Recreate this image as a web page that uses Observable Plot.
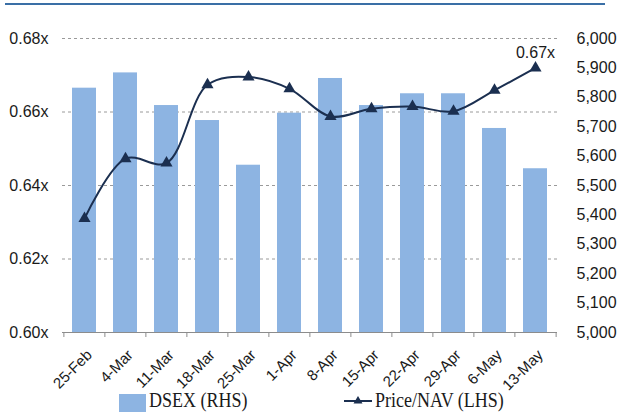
<!DOCTYPE html>
<html><head><meta charset="utf-8">
<script src="https://cdn.jsdelivr.net/npm/d3@7"></script>
<script src="https://cdn.jsdelivr.net/npm/@observablehq/plot@0.6"></script>
<style>
html,body{margin:0;padding:0;background:#fff;}
#wrap{position:relative;width:619px;height:412px;overflow:hidden;font-family:"Liberation Sans",Arial,sans-serif;}
#topline{position:absolute;left:5px;top:3px;width:600px;height:2px;background:#3A6FA6;}
#chart{position:absolute;left:0;top:0;}
.legtxt{position:absolute;font-family:"Liberation Serif","DejaVu Serif",serif;font-size:18px;line-height:18px;color:#1a1a1a;transform:scaleY(1.15);transform-origin:0 0;white-space:nowrap;}
</style>
</head><body>
<div id="wrap">
  <div id="chart"></div>
  <div id="topline"></div>
  <div id="legend"></div>
</div>
<script>
const weeks = ["25-Feb","4-Mar","11-Mar","18-Mar","25-Mar","1-Apr","8-Apr","15-Apr","22-Apr","29-Apr","6-May","13-May"];
const dsex = [5831,5883,5772,5721,5569,5746,5864,5772,5812,5812,5694,5557];
const priceNav = [0.631,0.6473,0.6461,0.6674,0.6695,0.6663,0.6588,0.6609,0.6615,0.6602,0.6659,0.672];
const lhsTicks = [0.60,0.62,0.64,0.66,0.68];
const rhsTicks = [5000,5100,5200,5300,5400,5500,5600,5700,5800,5900,6000];
const seriesNames = ["DSEX (RHS)","Price/NAV (LHS)"];

const lMin = 0.60, lMax = 0.68, rMin = 5000, rMax = 6000;
const toL = v => lMin + (v - rMin) / (rMax - rMin) * (lMax - lMin);
const toR = v => rMin + (v - lMin) / (lMax - lMin) * (rMax - rMin);

const data = weeks.map((w, i) => ({week: w, dsex: dsex[i], nav: priceNav[i]}));

const W = 619, H = 412, mL = 62, mR = 62, mT = 38, mB = 80;
const step = (W - mL - mR) / weeks.length;
const tickLen = 5 * (lMax - lMin) / (H - mT - mB);
const navy = "#1B2F50", barFill = "#8DB4E2";

const chart = Plot.plot({
  width: W, height: H,
  marginLeft: mL, marginRight: mR, marginTop: mT, marginBottom: mB,
  style: {fontFamily: "'Liberation Sans', Arial, sans-serif", color: "#1a1a1a", background: "transparent"},
  x: {type: "band", domain: weeks, paddingInner: 0.42, paddingOuter: 0.21, axis: null},
  y: {domain: [lMin, lMax], axis: null},
  marks: [
    Plot.ruleY(lhsTicks.filter(d => d > lMin), {stroke: "#9a9a9a", strokeDasharray: "3,3", strokeWidth: 1}),
    Plot.barY(data, {x: "week", y1: lMin, y2: d => toL(d.dsex), fill: barFill}),
    Plot.ruleY([lMin], {stroke: "#8c8c8c", strokeWidth: 1}),
    Plot.ruleX(weeks, {x: d => d, y1: lMin, y2: lMin - tickLen, dx: -step / 2, stroke: "#8c8c8c"}),
    Plot.ruleX([weeks[weeks.length - 1]], {x: d => d, y1: lMin, y2: lMin - tickLen, dx: step / 2, stroke: "#8c8c8c"}),
    Plot.axisY(lhsTicks, {anchor: "left", tickSize: 0, tickPadding: 14, fontSize: 16, fontFamily: "'Liberation Sans', Arial, sans-serif", label: null, tickFormat: d => d.toFixed(2) + "x"}),
    Plot.axisY(rhsTicks.map(toL), {anchor: "right", tickSize: 0, tickPadding: 19, fontSize: 16, fontFamily: "'Liberation Sans', Arial, sans-serif", label: null, tickFormat: d => d3.format(",")(Math.round(toR(d)))}),
    Plot.text(weeks, {x: d => d, y: lMin, text: d => d, rotate: -45, textAnchor: "end", dx: 5, dy: 20, fontSize: 15, fontFamily: "'Liberation Sans', Arial, sans-serif", fill: "#1a1a1a"}),
    Plot.line(data, {x: "week", y: "nav", stroke: navy, strokeWidth: 2, curve: "catmull-rom"}),
    Plot.dot(data, {x: "week", y: "nav", symbol: "triangle", r: 4.5, fill: navy, stroke: "none"}),
    Plot.text([data[data.length - 1]], {x: "week", y: "nav", text: d => d.nav.toFixed(2) + "x", dy: -15, fontSize: 16, fontFamily: "'Liberation Sans', Arial, sans-serif", fill: "#1a1a1a"})
  ]
});
document.getElementById("chart").appendChild(chart);

// Legend (below the plot area)
const leg = document.getElementById("legend");
leg.innerHTML = `
  <div style="position:absolute;left:119px;top:394px;width:27px;height:18px;background:${barFill};"></div>
  <div class="legtxt" style="left:149px;top:390px;">${seriesNames[0]}</div>
  <svg style="position:absolute;left:340px;top:392px;" width="36" height="18">
    <line x1="4" y1="9" x2="32" y2="9" stroke="${navy}" stroke-width="2"/>
    <path d="M18,4 L22.5,11.5 L13.5,11.5 Z" fill="${navy}"/>
  </svg>
  <div class="legtxt" style="left:375px;top:390px;">${seriesNames[1]}</div>`;
</script>
</body></html>
